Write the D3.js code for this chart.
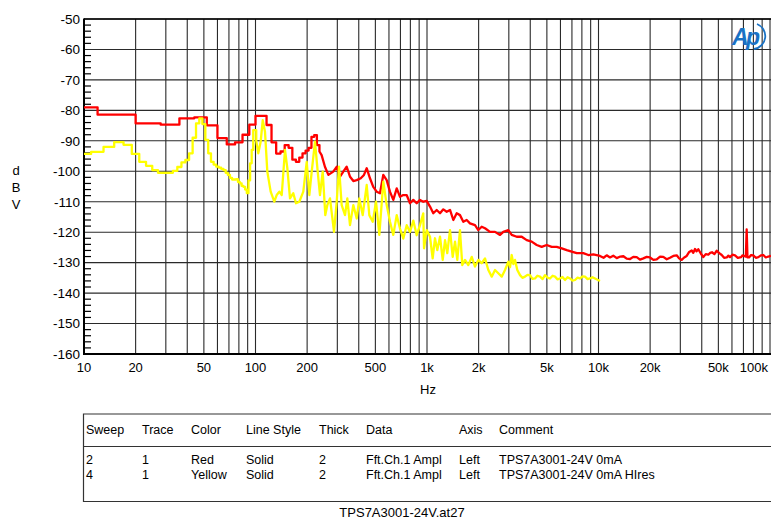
<!DOCTYPE html>
<html><head><meta charset="utf-8">
<script src="https://cdn.jsdelivr.net/npm/d3@7"></script>
<style>
html,body{margin:0;padding:0;background:#fff;}
svg{display:block;}
text{font-family:"Liberation Sans",Arial,sans-serif;fill:#000;}
</style>
</head><body>
<svg id="c" width="771" height="519"></svg>
<script>
// ---------- data ----------
const xTickValues = [10,20,50,100,200,500,1000,2000,5000,10000,20000,50000,100000];
const xTickLabels = ["10","20","50","100","200","500","1k","2k","5k","10k","20k","50k","100k"];
const yTickValues = [-50,-60,-70,-80,-90,-100,-110,-120,-130,-140,-150,-160];
const yTickLabels = ["-50","-60","-70","-80","-90","-100","-110","-120","-130","-140","-150","-160"];

// Red (sweep 2): low-frequency FFT bins [start Hz, dBV]
const redSteps = [[10,-79],[12,-81.4],[20,-84.3],[28,-84.7],[36,-82.6],[44,-82.3],[52,-84.9],[60,-89.1],[68,-91.2],[76,-90.5],[84,-88],[92,-84.7],[100,-81.8],[108,-81.8],[116,-84.8],[124,-90.5],[132,-94.2],[140,-93.5],[148,-91.4],[156,-92.3],[164,-96.2],[172,-96.9],[180,-95.5],[188,-94.1],[196,-93.2],[204,-92.3],[212,-88.7],[220,-88.1],[228,-91.4]];
// Red: dense part [Hz, dBV]
const redTrace = [[236,-93.5],[243,-94.7],[254,-98.5],[266,-101.2],[284,-100.1],[298,-98.5],[311,-101.8],[325,-100.1],[340,-98.5],[356,-101.8],[372,-103.2],[389,-102.9],[411,-102.3],[429,-101.2],[445,-99],[465,-102.3],[486,-105.1],[509,-106.7],[532,-107.2],[556,-101.2],[582,-102.9],[608,-106.7],[636,-109.4],[666,-105.6],[696,-108.4],[727,-107.8],[761,-107.8],[796,-110.5],[832,-109.4],[871,-110.5],[910,-109.4],[951,-110],[996,-109.7],[1041,-111.6],[1088,-113.8],[1139,-112.7],[1191,-113.8],[1245,-112.5],[1303,-113.3],[1362,-112.7],[1424,-116],[1490,-113.8],[1557,-114.4],[1628,-116.6],[1704,-116],[1781,-117.1],[1905,-117.7],[1991,-119.3],[2084,-118.2],[2179,-118.7],[2330,-119.9],[2492,-119.9],[2666,-120.9],[2786,-119.9],[2980,-119.3],[3118,-120.9],[3334,-121.5],[3566,-121.5],[3814,-122.6],[4078,-123.1],[4362,-124.2],[4665,-124.8],[4989,-124.2],[5336,-124.8],[5706,-124.8],[6102,-125.3],[6526,-125.9],[6979,-126.4],[7465,-126.9],[8156,-126.9],[8722,-127.5],[9328,-127.3],[10200,-127.8],[10700,-128.4],[11160,-127.6],[11670,-128.3],[12200,-127.7],[12770,-128.5],[13400,-128.0],[13970,-127.9],[14600,-128.7],[15270,-128.8],[15950,-128.1],[16700,-128.2],[17450,-129.0],[18260,-128.6],[19100,-128.1],[19970,-128.3],[20900,-129.1],[21840,-128.9],[22850,-128.0],[23870,-128.1],[25000,-128.9],[26120,-128.4],[27300,-127.8],[28580,-127.6],[29500,-128.6],[30560,-129.1],[31600,-128.3],[32680,-127.8],[33800,-126.5],[34950,-126.0],[35700,-126.8],[36540,-125.5],[37300,-126.3],[38190,-125.6],[39500,-127.0],[40840,-128.2],[42200,-127.2],[43680,-127.4],[44800,-126.8],[45900,-126.6],[47400,-127.2],[48900,-126.1],[50600,-126.9],[52300,-127.5],[54000,-128.4],[55910,-128.3],[57200,-127.7],[58460,-128.2],[60400,-127.4],[62510,-127.6],[64900,-128.4],[67760,-128.2],[69200,-127.6],[70510,-127.8],[72300,-128.0],[73110,-119.1],[73900,-128.3],[75420,-128.3],[77600,-127.5],[79900,-127.6],[82700,-128.4],[85500,-128.2],[88500,-127.6],[91400,-127.5],[94500,-128.3],[97700,-128],[101300,-127.8]];

// Yellow (sweep 4, HIres): low-frequency FFT bins [start Hz, dBV]
const yellowSteps = [[10,-94.3],[11,-93.6],[13,-92.0],[15,-90.4],[17,-91.3],[19,-94.3],[21,-96.9],[23,-98.2],[25,-99.6],[27,-100.5],[33,-99.9],[35,-98.6],[37,-97.1],[39,-96.3],[41,-94.1],[43,-89],[45,-84.3],[47,-82.6],[49,-84.5],[51,-89.7],[53,-94.1],[55,-96.9],[57,-97.8],[59,-98.5],[61,-98.8],[63,-99.2],[65,-99.6],[67,-100.5],[69,-101.2],[71,-102.2],[73,-102.7],[77,-102.6],[79,-103.5],[81,-104],[83,-104.8],[85,-105.1],[87,-106],[89,-107.2],[91,-103],[93,-97.4],[95,-93],[97,-86.5]];
// Yellow: dense part [Hz, dBV]
const yellowTrace = [[101,-90],[103.8,-94.1],[107.2,-90.3],[110.2,-83.2],[113.6,-87],[117.2,-100.1],[122.6,-106.7],[128.7,-110],[132.9,-107.8],[137.7,-106.7],[142.2,-107.8],[148.6,-93],[153.3,-99],[158.9,-108.9],[166.1,-107.2],[172.2,-110.5],[180.1,-110],[190,-106.7],[198.9,-96.9],[206,-107.8],[212.7,-100.1],[222.3,-90.3],[230.5,-100.1],[237.7,-107.8],[246.5,-100.1],[255.3,-114.4],[262.3,-111.1],[271.9,-108.9],[287,-119.9],[297.5,-110],[306.8,-98.5],[318.1,-111.1],[332.6,-114.4],[343.1,-108.9],[355.6,-117.7],[371.8,-111.1],[389.2,-115.5],[402.9,-108.9],[421.8,-114.4],[445.1,-104.5],[460.9,-114.4],[482.5,-116.6],[504.3,-110],[527.2,-120.9],[556.3,-103.4],[582.1,-111.1],[608.5,-116.6],[636.1,-120.9],[665.8,-114.4],[696,-118.8],[727.5,-122.1],[761.4,-117.7],[796,-119.9],[832.2,-116.2],[870.9,-121],[910.4,-117.7],[951,-113.8],[961,-125.3],[996,-119.3],[1041,-121.5],[1079,-128.6],[1113,-122],[1148,-125.9],[1191,-121.5],[1235,-129.1],[1274,-122.6],[1313,-126.9],[1362,-119.3],[1412,-128.1],[1457,-123.1],[1502,-129.1],[1557,-119.3],[1606,-130.8],[1666,-129.1],[1741,-130.8],[1823,-128.1],[1905,-131.3],[1991,-129.1],[2084,-130.2],[2179,-128.6],[2278,-132.4],[2385,-134.6],[2492,-132.4],[2605,-133.5],[2727,-134.6],[2850,-132.4],[2980,-129.7],[3050,-131.5],[3118,-127.5],[3190,-130.5],[3260,-129.1],[3361,-132.4],[3486,-134.1],[3600,-135.0],[3728,-134.6],[3850,-134.0],[3987,-134.1],[4120,-135.3],[4264,-135.2],[4400,-134.3],[4560,-134.6],[4720,-135.4],[4875,-134.1],[5050,-134.9],[5214,-135.2],[5400,-134.3],[5577,-134.6],[5770,-135.5],[5963,-135.2],[6170,-134.7],[6379,-135.7],[6600,-134.8],[6821,-135.2],[7050,-135.9],[7295,-135.7],[7550,-134.9],[7801,-135.2],[8070,-134.5],[8344,-134.6],[8630,-135.4],[8923,-135.2],[9230,-134.8],[9541,-135.2],[9870,-135.6],[10200,-136]];

const legendHeader = ["Sweep","Trace","Color","Line Style","Thick","Data","Axis","Comment"];
const legendRows = [
  ["2","1","Red","Solid","2","Fft.Ch.1 Ampl","Left","TPS7A3001-24V 0mA"],
  ["4","1","Yellow","Solid","2","Fft.Ch.1 Ampl","Left","TPS7A3001-24V 0mA HIres"]
];
const footerText = "TPS7A3001-24V.at27";

// ---------- layout ----------
const P = {l:84, r:770, t:19, b:354};
const svg = d3.select("#c");
const x = d3.scaleLog().domain([10,100000]).range([P.l,P.r]);
const y = d3.scaleLinear().domain([-160,-50]).range([P.b,P.t]);

// grid
const grid = svg.append("g").attr("stroke","#2a2a2a").attr("stroke-width",1.1);
grid.selectAll("line.v").data(x.ticks()).join("line").attr("class","v")
  .attr("x1",d=>x(d)).attr("x2",d=>x(d)).attr("y1",P.t).attr("y2",P.b);
grid.selectAll("line.h").data(yTickValues).join("line").attr("class","h")
  .attr("x1",P.l).attr("x2",771).attr("y1",d=>y(d)).attr("y2",d=>y(d));

// minor ticks on the left axis (every 2 dB)
const minor = d3.range(-158,-50,2).filter(v=>v%10!==0);
svg.append("g").attr("stroke","#000").attr("stroke-width",1.2)
  .selectAll("line").data(minor).join("line")
  .attr("x1",P.l).attr("x2",P.l+7).attr("y1",d=>y(d)).attr("y2",d=>y(d));

// frame
svg.append("line").attr("x1",P.l).attr("x2",P.l).attr("y1",P.t-0.5).attr("y2",P.b+1)
  .attr("stroke","#000").attr("stroke-width",2);
svg.append("line").attr("x1",P.l).attr("x2",771).attr("y1",P.b).attr("y2",P.b)
  .attr("stroke","#000").attr("stroke-width",2);
svg.append("line").attr("x1",P.l).attr("x2",771).attr("y1",P.t).attr("y2",P.t)
  .attr("stroke","#000").attr("stroke-width",1.4);

// traces
svg.append("clipPath").attr("id","clip").append("rect")
  .attr("x",P.l).attr("y",P.t).attr("width",771-P.l).attr("height",P.b-P.t);
const stepGen = d3.line().x(d=>x(d[0])).y(d=>y(d[1])).curve(d3.curveStepAfter);
const linGen = d3.line().x(d=>x(d[0])).y(d=>y(d[1]));
function tracePath(steps, dense){
  return stepGen(steps.concat([dense[0]])) + linGen(dense).replace(/^M/,"L");
}
const tg = svg.append("g").attr("clip-path","url(#clip)")
  .attr("fill","none").attr("stroke-width",2.3).attr("stroke-linejoin","round");
tg.append("path").attr("d",tracePath(redSteps,redTrace)).attr("stroke","#ff0000");
tg.append("path").attr("d",tracePath(yellowSteps,yellowTrace)).attr("stroke","#ffff00");

// y labels
svg.append("g").selectAll("text").data(yTickValues).join("text")
  .attr("x",80).attr("y",d=>y(d)+4.8).attr("text-anchor","end")
  .attr("font-size",13.5).text((d,i)=>yTickLabels[i]);
// x labels
svg.append("g").selectAll("text").data(xTickValues).join("text")
  .attr("x",(d,i)=> i===xTickValues.length-1 ? 768 : x(d))
  .attr("text-anchor",(d,i)=> i===xTickValues.length-1 ? "end" : "middle")
  .attr("y",372).attr("font-size",13).text((d,i)=>xTickLabels[i]);
svg.append("text").attr("x",428).attr("y",394).attr("text-anchor","middle")
  .attr("font-size",13).text("Hz");
["d","B","V"].forEach((c,i)=>svg.append("text").attr("x",16).attr("y",175+i*17)
  .attr("text-anchor","middle").attr("font-size",13).text(c));

// logo
const logo = svg.append("g");
logo.append("text").attr("x",732).attr("y",45).attr("font-size",23)
  .attr("font-style","italic").attr("font-weight","bold")
  .style("fill","#1a72c4").attr("letter-spacing",-2.5).text("Ap");
logo.append("path").attr("d","M757,24 A13,13 0 0 1 754,49")
  .attr("fill","none").attr("stroke","#1a72c4").attr("stroke-width",1.8);

// legend table
const colX = [86,142,191,246,319,366,459,499];
svg.append("path").attr("d","M780,414 H83.5 V501.5 H780 M83.5,446.5 H780")
  .attr("fill","none").attr("stroke","#333").attr("stroke-width",1.2);
svg.append("g").selectAll("text").data(legendHeader).join("text")
  .attr("x",(d,i)=>colX[i]).attr("y",433.5).attr("font-size",12.5).text(d=>d);
legendRows.forEach((row,r)=>{
  svg.append("g").selectAll("text").data(row).join("text")
    .attr("x",(d,i)=>colX[i]).attr("y",464+r*15).attr("font-size",12.5).text(d=>d);
});
svg.append("text").attr("x",402).attr("y",516.5).attr("text-anchor","middle")
  .attr("font-size",13).text(footerText);
</script>
</body></html>
